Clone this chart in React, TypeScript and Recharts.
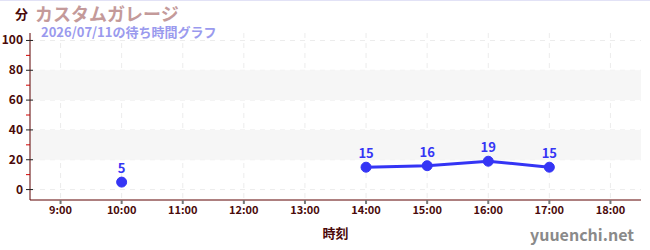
import {
  ComposedChart,
  Line,
  XAxis,
  YAxis,
  CartesianGrid,
  ReferenceArea,
  LabelList,
} from "recharts";

const hours = [10, 11, 12, 13, 14, 15, 16, 17];
const waits: (number | null)[] = [5, null, null, null, 15, 16, 19, 15];
const xTicks = [9, 10, 11, 12, 13, 14, 15, 16, 17, 18];
const yTicks = [0, 10, 20, 30, 40, 50, 60, 70, 80, 90, 100];
const bands = [
  [20, 40],
  [60, 80],
];

const TEXT = "#4a0a0a";
const AXIS = "#5c0000";
const BLUE = "#3535f5";
const FONT = "'Noto Sans CJK JP', 'Noto Sans', sans-serif";

const data = hours.map((h, i) => ({ hour: h, wait: waits[i] }));

function YTick(props: any) {
  const { x, y, payload } = props;
  const v = payload.value;
  const axisX = x + 6;
  if (v % 20 !== 0) {
    return <line x1={axisX - 4} x2={axisX} y1={y} y2={y} stroke="#d00000" strokeWidth={1} />;
  }
  return (
    <g>
      <line x1={axisX - 4} x2={axisX + 3} y1={y} y2={y} stroke="#222" strokeWidth={1} />
      <text x={x - 1} y={y + 4} textAnchor="end" fontSize={12} fontWeight="bold" fill={TEXT} fontFamily={FONT}>
        {v}
      </text>
    </g>
  );
}

export default function App() {
  return (
    <div style={{ position: "absolute", left: 0, top: 0, width: 650, height: 250, background: "#fff", fontFamily: FONT }}>
      <div style={{ position: "absolute", left: 0, top: 0, width: 650, height: 1, background: "#e2e2f6" }} />
      <ComposedChart
        width={650}
        height={250}
        data={data}
        margin={{ top: 33, right: 9, bottom: 0, left: 0 }}
      >
        {bands.map(([a, b], i) => (
          <ReferenceArea key={i} y1={a} y2={b} fill="#f6f6f6" fillOpacity={1} stroke="none" />
        ))}
        <CartesianGrid
          stroke="#ececec"
          strokeDasharray="5 5"
          verticalValues={xTicks}
          horizontalValues={[0, 20, 40, 60, 80, 100]}
        />
        <XAxis
          dataKey="hour"
          type="number"
          domain={[8.5, 18.5]}
          ticks={xTicks}
          tickFormatter={(v) => `${v}:00`}
          height={50}
          stroke={AXIS}
          tickLine={{ stroke: "#777", strokeWidth: 2 }}
          tickSize={4}
          tick={{ fill: TEXT, fontSize: 11, fontWeight: "bold", fontFamily: FONT }}
          label={{ value: "時刻", position: "insideBottom", offset: 12, fill: TEXT, fontSize: 13, fontWeight: "bold", fontFamily: FONT }}
        />
        <YAxis
          type="number"
          domain={[-7, 105]}
          ticks={yTicks}
          interval={0}
          width={30}
          stroke={AXIS}
          tickLine={false}
          tickSize={4}
          tickMargin={2}
          tick={<YTick />}
          allowDataOverflow
        />
        <Line
          dataKey="wait"
          stroke={BLUE}
          strokeWidth={3}
          dot={{ r: 5, fill: BLUE, stroke: BLUE, strokeWidth: 1 }}
          activeDot={false}
          isAnimationActive={false}
          connectNulls={false}
        >
          <LabelList dataKey="wait" position="top" offset={9} fill={BLUE} fontSize={13} fontWeight="bold" fontFamily={FONT} />
        </Line>
      </ComposedChart>
      <div style={{ position: "absolute", left: 15, top: 6, fontSize: 13, fontWeight: "bold", color: TEXT, lineHeight: "16px" }}>分</div>
      <div style={{ position: "absolute", left: 35, top: 3, fontSize: 18, fontWeight: "bold", color: "#c49a9a", lineHeight: "20px" }}>
        カスタムガレージ
      </div>
      <div style={{ position: "absolute", left: 41, top: 25, fontSize: 13, fontWeight: "bold", color: "#9a9aee", lineHeight: "13px" }}>
        2026/07/11の待ち時間グラフ
      </div>
      <div style={{ position: "absolute", right: 16, top: 222, fontSize: 16, fontWeight: "bold", color: "#8a8a8a", lineHeight: "24px" }}>
        yuuenchi.net
      </div>
    </div>
  );
}
